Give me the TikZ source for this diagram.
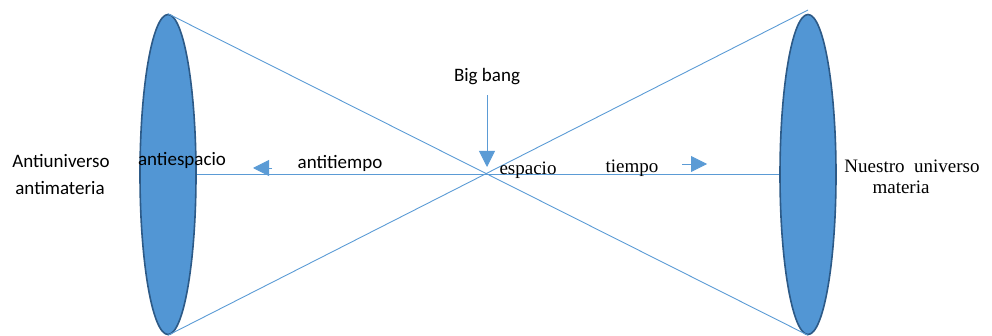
\documentclass[tikz,border=0pt]{standalone}
\usepackage{fontspec}
\setmainfont{Liberation Serif}
\newfontfamily\calib{Carlito}
\usepackage{tikz}
\usetikzlibrary{arrows.meta}
\usetikzlibrary{shapes.geometric}
\definecolor{skyline}{RGB}{91,155,213}
\definecolor{disc}{RGB}{82,150,212}
\definecolor{discedge}{RGB}{45,90,135}
\tikzstyle{ray}=[draw=skyline,line width=0.9pt]
\tikzstyle{arr}=[ray,-{Triangle[length=16pt,width=16pt]},skyline]
\tikzstyle{univ}=[ellipse,draw=discedge,fill=disc,line width=1.6pt,
  minimum width=56pt,minimum height=320pt,inner sep=0pt]
\tikzstyle{sanslbl}=[font=\calib\fontsize{19}{22}\selectfont,inner sep=0pt]
\tikzstyle{seriflbl}=[font=\fontsize{19}{22}\selectfont,inner sep=0pt]

\begin{document}
\begin{tikzpicture}[x=1pt,y=-1pt]
  \useasboundingbox (0,0) rectangle (992,336);

  \node[univ] (antiU) at (168,174.5) {};
  \node[univ] (ourU) at (808,174.5) {};
  \coordinate (bb) at (487,174);
  \coordinate (rtip) at (808,10);

  \draw[ray] (antiU.north) -- (ourU.south);
  \draw[ray] (antiU.south) -- (rtip);
  \draw[ray] (antiU.east) -- (ourU.west);

  \node[sanslbl] (antiuniv) at (61,161) {Antiuniverso};
  \node[sanslbl] (antimat) at (60,188) {antimateria};
  \node[sanslbl] (antiesp) at (182,160) {antiespacio};
  \node[sanslbl] (antitiem) at (340,163) {antitiempo};
  \node[sanslbl] (bigbang) at (487,77) {Big bang};
  \node[seriflbl] (esp) at (528,170) {espacio};
  \node[seriflbl] (tiem) at (632,168) {tiempo};
  \node[seriflbl] (nuestro) at (912,166) {Nuestro\ \ universo};
  \node[seriflbl] (mat) at (901,187) {materia};

  \coordinate (lt) at (272,168);
  \coordinate (lh) at (253,168);
  \coordinate (rt) at (682,164);
  \coordinate (rh) at (707,164);
  \draw[arr] (lt) -- (lh);
  \draw[arr] (rt) -- (rh);
  \draw[arr,shorten <=10pt,shorten >=7pt] (bigbang.south) -- (bb);
\end{tikzpicture}
\end{document}
